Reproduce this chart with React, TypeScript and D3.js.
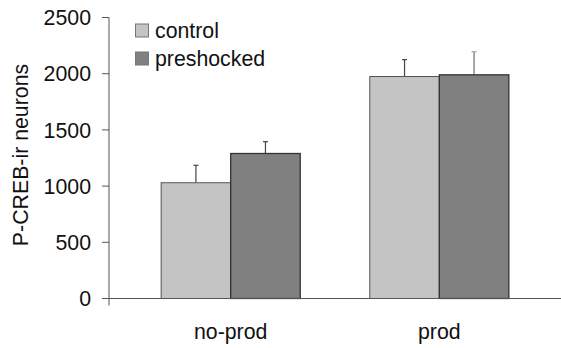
import React from 'react'
import * as d3 from 'd3'

const categories = ['no-prod', 'prod']
const seriesNames = ['control', 'preshocked']
const controlValues = [1030, 1975]
const controlErrors = [155, 150]
const preshockedValues = [1290, 1990]
const preshockedErrors = [105, 205]
const yTicks = [0, 500, 1000, 1500, 2000, 2500]

const width = 561
const height = 348
const axisX = 109
const yBottom = 298.5
const yTop = 17.5
const font = '"Liberation Sans", Arial, sans-serif'
const fs = 21.3

const fills = ['#c4c4c4', '#808080']
const strokes = ['#555', '#333']

export default function App() {
  const y = d3.scaleLinear().domain([0, 2500]).range([yBottom, yTop])
  const x0 = d3.scaleBand().domain(categories).range([axisX, width])
    .paddingInner(1 / 3).paddingOuter(0.25)
  const x1 = d3.scaleBand().domain(seriesNames).range([0, x0.bandwidth()])

  const series = [
    {name: 'control', values: controlValues, errors: controlErrors},
    {name: 'preshocked', values: preshockedValues, errors: preshockedErrors},
  ]

  return (
    <svg width={width} height={height} style={{position: 'absolute', left: 0, top: 0}}
         fontFamily={font}>
      <rect width={width} height={height} fill="#fff" />

      {/* bars */}
      {series.map((s, si) => (
        <g key={s.name}>
          {categories.map((c, ci) => {
            const bx = x0(c)! + x1(s.name)!
            const v = s.values[ci]
            const cx = bx + x1.bandwidth() / 2
            const errCol = si === 1 && ci === 1 ? '#a0a0a0' : '#444'
            return (
              <g key={c}>
                <line x1={cx} x2={cx} y1={y(v)} y2={y(v + s.errors[ci])}
                      stroke={errCol} strokeWidth={si === 1 && ci === 1 ? 1.8 : 1.2} />
                <line x1={cx - 2.5} x2={cx + 2.5} y1={y(v + s.errors[ci])} y2={y(v + s.errors[ci])}
                      stroke={errCol} strokeWidth={1.2} />
                <rect x={bx} y={y(v)} width={x1.bandwidth()} height={yBottom - y(v)}
                      fill={fills[si]} stroke={strokes[si]} strokeWidth={si === 0 ? 1 : 1.3} />
              </g>
            )
          })}
        </g>
      ))}

      {/* axes */}
      <line x1={axisX} x2={width} y1={yBottom} y2={yBottom} stroke="#555" />
      <line x1={axisX} x2={axisX} y1={yTop} y2={yBottom + 7} stroke="#555" />
      {yTicks.map(t => (
        <g key={t}>
          <line x1={axisX - 7} x2={axisX} y1={y(t)} y2={y(t)} stroke="#555" />
          <text x={91} y={y(t)} dy="0.36em" textAnchor="end" fontSize={fs} fill="#111">{t}</text>
        </g>
      ))}
      {categories.map(c => (
        <text key={c} x={x0(c)! + x0.bandwidth() / 2} y={339} textAnchor="middle"
              fontSize={fs} fill="#111">{c}</text>
      ))}
      <text transform={`translate(27.5, 155) rotate(-90)`} textAnchor="middle"
            fontSize={fs} fill="#111">P-CREB-ir neurons</text>

      {/* legend */}
      {seriesNames.map((n, i) => (
        <g key={n} transform={`translate(135, ${24 + i * 28})`}>
          <rect x={0.5} y={0} width={13} height={13} fill={fills[i]} stroke="#777" />
          <text x={20} y={14} fontSize={fs} fill="#111">{n}</text>
        </g>
      ))}
    </svg>
  )
}
